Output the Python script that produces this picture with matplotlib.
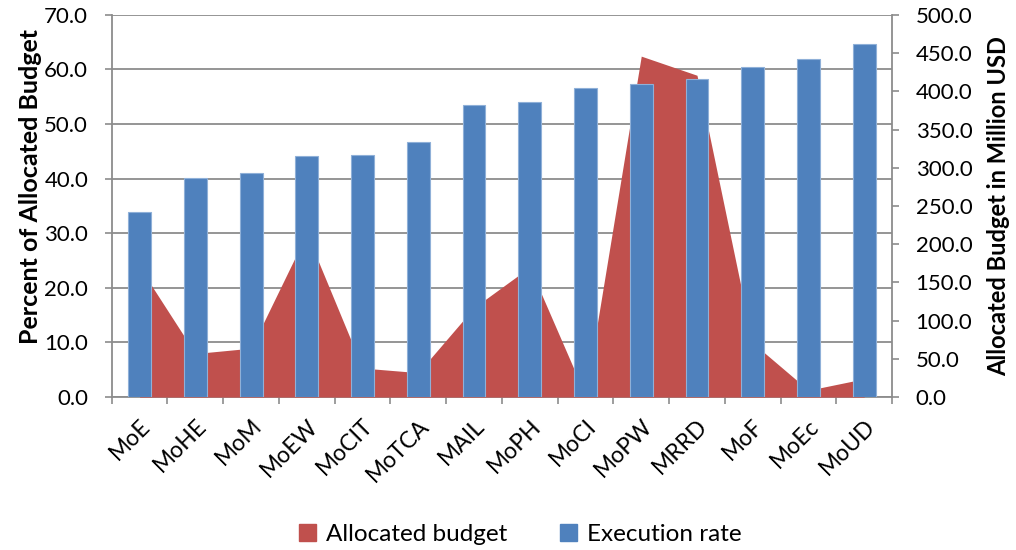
import numpy as np
import matplotlib
matplotlib.use('Agg')
import matplotlib.pyplot as plt
from matplotlib.patches import Patch

plt.rcParams['font.family'] = ['Lato', 'DejaVu Sans']

# ministries
categories = ['MoE', 'MoHE', 'MoM', 'MoEW', 'MoCIT', 'MoTCA', 'MAIL',
              'MoPH', 'MoCI', 'MoPW', 'MRRD', 'MoF', 'MoEc', 'MoUD']
# execution rate, percent (left axis)
execution_rate = [33.9, 40.2, 41.0, 44.2, 44.3, 46.7, 53.5,
                  54.0, 56.6, 57.4, 58.3, 60.5, 61.9, 64.7]
# allocated budget, million USD (right axis)
allocated_budget = [170, 57, 64, 214, 38, 32, 117,
                    170, 2, 446, 421, 71, 9, 24]

blue = '#4F81BD'
red = '#C0504D'
grid_c = '#8C8C8C'
fs = 16

fig = plt.figure(figsize=(10.16, 5.5), dpi=100)
pos = [0.110, 0.278, 0.768, 0.695]
ax1 = fig.add_axes(pos)
ax2 = ax1.twinx()
ax3 = fig.add_axes(pos, sharex=ax1, sharey=ax1)

x = np.arange(len(categories))

# left axis + grid
ax1.set_ylim(0, 70)
ax1.set_yticks(np.arange(0, 71, 10))
ax1.set_yticklabels(['%.1f' % v for v in np.arange(0, 71, 10)])
ax1.yaxis.grid(True, color=grid_c, linewidth=1.3)
ax1.set_axisbelow(True)
ax1.set_xlim(-0.5, len(categories) - 0.5)
ax1.set_xticks(x)
ax1.set_xticklabels(categories, rotation=45, ha='right', rotation_mode='anchor', fontsize=16.5)
ax1.set_xticks(np.arange(-0.5, len(categories), 1), minor=True)
ax1.tick_params(axis='x', which='major', length=0, pad=13)
ax1.tick_params(axis='x', which='minor', length=5, color=grid_c, width=1.2)
ax1.tick_params(axis='y', length=5, color=grid_c, width=1.2, labelsize=fs, pad=12)
ax1.set_ylabel('Percent of Allocated Budget', fontsize=18, fontweight='bold')
ax1.yaxis.set_label_coords(-0.09, 0.55)
for s in ['top', 'right']:
    ax1.spines[s].set_visible(False)
for s in ['left', 'bottom']:
    ax1.spines[s].set_color(grid_c)
    ax1.spines[s].set_linewidth(1.3)

# area on right axis
ax2.fill_between(x, allocated_budget, 0, color=red, linewidth=0)
ax2.set_ylim(0, 500)
ax2.set_yticks(np.arange(0, 501, 50))
ax2.set_yticklabels(['%.1f' % v for v in np.arange(0, 501, 50)])
ax2.tick_params(axis='y', length=5, color=grid_c, width=1.2, labelsize=fs, pad=12)
ax2.set_ylabel('Allocated Budget in Million USD', fontsize=17, fontweight='bold')
ax2.yaxis.set_label_coords(1.122, 0.5)
for s in ['top', 'left', 'bottom']:
    ax2.spines[s].set_visible(False)
ax2.spines['right'].set_color(grid_c)
ax2.spines['right'].set_linewidth(1.3)

# bars on top
ax3.bar(x, execution_rate, width=0.41, color=blue, edgecolor='#8FB0D8', linewidth=0.8)
ax3.patch.set_visible(False)
ax3.axis('off')

handles = [Patch(color=red, label='Allocated budget'), Patch(color=blue, label='Execution rate')]
fig.legend(handles=handles, loc='center', bbox_to_anchor=(0.512, 0.028), ncol=2,
           frameon=False, fontsize=17.5, handlelength=0.7, handleheight=0.7,
           handletextpad=0.4, columnspacing=2.2)

fig.savefig('out.png', dpi=100)
